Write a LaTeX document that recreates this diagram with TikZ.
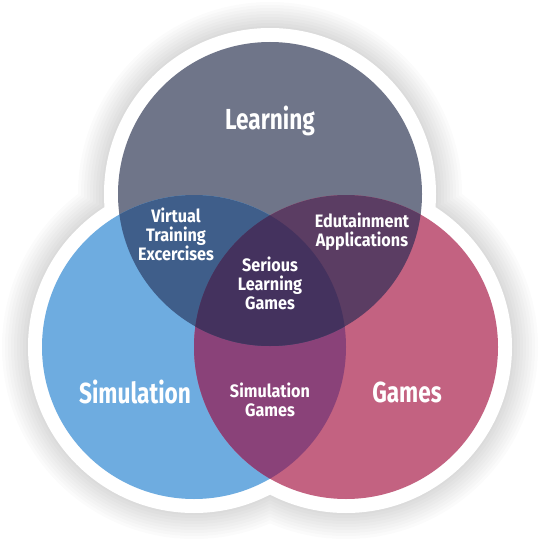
\documentclass[tikz,border=0pt]{standalone}
\usepackage{fontspec}
\newfontfamily\lab{Fira Sans}[FakeStretch=0.78]
\newfontfamily\labS{Fira Sans}[FakeStretch=0.9]
\definecolor{cL}{HTML}{6F7589}
\definecolor{cS}{HTML}{6EACE0}
\definecolor{cG}{HTML}{C36281}
\definecolor{cLS}{HTML}{3F5E8A}
\definecolor{cLG}{HTML}{5B3D63}
\definecolor{cSG}{HTML}{8A4279}
\definecolor{cLSG}{HTML}{44325E}
\tikzset{
  big/.style={text=white, font=\lab\bfseries\fontsize{29}{29}\selectfont},
  small/.style={text=white, align=center, font=\labS\bfseries\fontsize{18}{19}\selectfont},
}
\begin{document}
\begin{tikzpicture}[x=1pt,y=-1pt]
\useasboundingbox (0,0) rectangle (540,540);
\fill[white] (0,0) rectangle (540,540);
\coordinate (Lc) at (270,194);
\coordinate (Sc) at (194,347);
\coordinate (Gc) at (346,347);
% soft shadow
\foreach \r in {192,189,...,167}{
  \fill[black, opacity=0.016] (Lc) circle[radius=\r pt] (Sc) circle[radius=\r pt] (Gc) circle[radius=\r pt];
}
% white halo
\fill[white] (Lc) circle[radius=166pt] (Sc) circle[radius=166pt] (Gc) circle[radius=166pt];
% circles
\fill[cL] (Lc) circle[radius=152pt];
\fill[cS] (Sc) circle[radius=152pt];
\fill[cG] (Gc) circle[radius=152pt];
\begin{scope}
  \clip (Sc) circle[radius=152pt];
  \fill[cSG] (Gc) circle[radius=152pt];
\end{scope}
\begin{scope}
  \clip (Lc) circle[radius=152pt];
  \fill[cLS] (Sc) circle[radius=152pt];
  \fill[cLG] (Gc) circle[radius=152pt];
  \clip (Sc) circle[radius=152pt];
  \fill[cLSG] (Gc) circle[radius=152pt];
\end{scope}
% labels
\node[big] (learning) at (270,121) {Learning};
\node[big] (simulation) at (135,392) {Simulation};
\node[big] (games) at (407,392) {Games};
\node[small] (vte) at (176,234) {Virtual\\Training\\Excercises};
\node[small] (edu) at (362,232) {Edutainment\\Applications};
\node[small] (slg) at (270,283) {Serious\\Learning\\Games};
\node[small] (sg) at (270,400) {Simulation\\Games};
\end{tikzpicture}
\end{document}
